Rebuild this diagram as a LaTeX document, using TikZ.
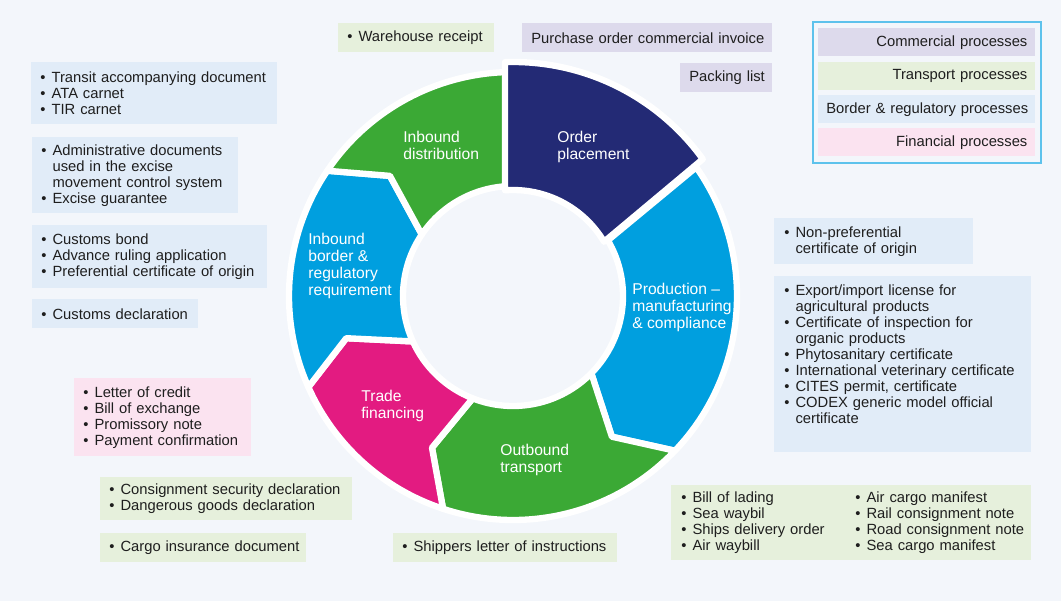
\documentclass[tikz,border=0pt]{standalone}
\usepackage{fontspec}
\setmainfont{Liberation Sans}
\definecolor{pagebg}{HTML}{F3F6FB}
\definecolor{navyseg}{HTML}{232A75}
\definecolor{blueseg}{HTML}{009FDF}
\definecolor{greenseg}{HTML}{3BA935}
\definecolor{pinkseg}{HTML}{E31B81}
\definecolor{commbox}{HTML}{DDDAEC}
\definecolor{transbox}{HTML}{E6F0DC}
\definecolor{borderbox}{HTML}{E1ECF8}
\definecolor{finbox}{HTML}{FBE3F0}
\definecolor{legframe}{HTML}{5DC2EC}
\definecolor{doctext}{HTML}{1E1E1E}
\newcommand\bul[1]{\mbox{\makebox[0.76em][l]{\textbullet}#1}}
\newcommand\bulind[1]{\mbox{\hspace*{0.76em}#1}}
\begin{document}
\begin{tikzpicture}[scale=0.2]
\tikzstyle{every node}+=[inner sep=0pt, text=doctext, font=\fontsize{8.4}{9.1}\selectfont]
\tikzstyle{seg}=[draw=white, line width=3.6pt, line join=round]
\tikzstyle{seglabel}=[anchor=north west, align=left, text=white, font=\fontsize{8.9}{9.7}\selectfont]
\tikzstyle{docbox}=[anchor=north west, inner xsep=0.18cm, align=left]
\tikzstyle{legrow}=[anchor=north west, inner xsep=0.16cm, align=right, text width=4.02cm, minimum height=0.56cm]
\fill [pagebg] (0,0) rectangle (106.1,-60.1);
\begin{scope}[shift={(51.3,-29.6)}]
\fill [seg, fill=blueseg] (35.1:22.4) arc [start angle=35.1, end angle=-43.7, radius=22.4] -- (-54.9:17.2) -- (-44.6:11) arc [start angle=-44.6, end angle=30.4, radius=11] -- cycle;
\fill [seg, fill=greenseg] (-43.7:22.4) arc [start angle=-43.7, end angle=-108.2, radius=22.4] -- (-118.1:17.2) -- (-111.5:11) arc [start angle=-111.5, end angle=-44.6, radius=11] -- (-54.9:17.2) -- cycle;
\fill [seg, fill=pinkseg] (-108.2:22.4) arc [start angle=-108.2, end angle=-156, radius=22.4] -- (-165.8:17.2) -- (-155.6:11) arc [start angle=-155.6, end angle=-111.5, radius=11] -- (-118.1:17.2) -- cycle;
\fill [seg, fill=blueseg] (-156:22.4) arc [start angle=-156, end angle=-214, radius=22.4] -- (-224.3:17.2) -- (-214:11) arc [start angle=-214, end angle=-155.6, radius=11] -- (-165.8:17.2) -- cycle;
\fill [seg, fill=greenseg] (-214:22.4) arc [start angle=-214, end angle=-268.21, radius=22.4] -- (-266.35:11) arc [start angle=-266.35, end angle=-214, radius=11] -- (-224.3:17.2) -- cycle;
\fill [seg, fill=navyseg] (91.96:23.4) arc [start angle=91.96, end angle=35.8, radius=23.4] -- (30.8:10.6) arc [start angle=30.8, end angle=94.33, radius=10.6] -- cycle;
\end{scope}
\node (ordlab) [seglabel] at (55.7,-13.1) {Order\\placement};
\node (distlab) [seglabel] at (40.3,-13.1) {Inbound\\distribution};
\node (borlab) [seglabel] at (30.8,-23.3) {Inbound\\border \&\\regulatory\\requirement};
\node (prodlab) [seglabel] at (63.2,-28.3) {Production \textendash\\manufacturing\\\& compliance};
\node (tradelab) [seglabel] at (36.1,-39.0) {Trade\\financing};
\node (outlab) [seglabel] at (50.0,-44.4) {Outbound\\transport};
\node (wh) [docbox, fill=transbox, text width=2.76cm, minimum height=0.58cm] at (33.8,-2.3) {\bul{Warehouse receipt}};
\node (po) [docbox, fill=commbox, align=center, text width=4.64cm, minimum height=0.58cm] at (52.2,-2.3) {\mbox{Purchase order commercial invoice}};
\node (pl) [docbox, fill=commbox, align=center, text width=1.48cm, minimum height=0.58cm] at (68.0,-6.3) {\mbox{Packing list}};
\node (lgc) [legrow, fill=commbox] at (81.8,-2.8) {\mbox{Commercial processes}};
\node (lgt) [legrow, fill=transbox] at (81.8,-6.2) {\mbox{Transport processes}};
\node (lgb) [legrow, fill=borderbox] at (81.8,-9.5) {\mbox{Border \& regulatory processes}};
\node (lgf) [legrow, fill=finbox] at (81.8,-12.8) {\mbox{Financial processes}};
\draw [legframe, line width=0.85pt] (81.3,-2.2) rectangle (104.1,-16.3);
\node (tad) [docbox, fill=borderbox, text width=4.56cm, minimum height=1.24cm] at (3.1,-6.2) {\bul{Transit accompanying document}\\\bul{ATA carnet}\\\bul{TIR carnet}};
\node (exc) [docbox, fill=borderbox, text width=3.76cm, minimum height=1.52cm] at (3.2,-13.7) {\bul{Administrative documents}\\\bulind{used in the excise}\\\bulind{movement control system}\\\bul{Excise guarantee}};
\node (cbd) [docbox, fill=borderbox, text width=4.34cm, minimum height=1.26cm] at (3.2,-22.5) {\bul{Customs bond}\\\bul{Advance ruling application}\\\bul{Preferential certificate of origin}};
\node (cdl) [docbox, fill=borderbox, text width=2.96cm, minimum height=0.58cm] at (3.2,-29.9) {\bul{Customs declaration}};
\node (loc) [docbox, fill=finbox, text width=3.18cm, minimum height=1.56cm] at (7.4,-37.8) {\bul{Letter of credit}\\\bul{Bill of exchange}\\\bul{Promissory note}\\\bul{Payment confirmation}};
\node (csd) [docbox, fill=transbox, text width=4.68cm, minimum height=0.86cm] at (10.0,-47.7) {\bul{Consignment security declaration}\\\bul{Dangerous goods declaration}};
\node (cid) [docbox, fill=transbox, text width=3.76cm, minimum height=0.58cm] at (10.0,-53.3) {\bul{Cargo insurance document}};
\node (sli) [docbox, fill=transbox, text width=4.12cm, minimum height=0.58cm] at (39.3,-53.3) {\bul{Shippers letter of instructions}};
\node (bol) [docbox, fill=transbox, inner xsep=0.2cm, text width=6.8cm, minimum height=1.5cm] at (67.1,-48.5) {\makebox[3.48cm][l]{\bul{Bill of lading}}\bul{Air cargo manifest}\\\makebox[3.48cm][l]{\bul{Sea waybil}}\bul{Rail consignment note}\\\makebox[3.48cm][l]{\bul{Ships delivery order}}\bul{Road consignment note}\\\makebox[3.48cm][l]{\bul{Air waybill}}\bul{Sea cargo manifest}};
\node (npo) [docbox, fill=borderbox, inner xsep=0.2cm, text width=3.58cm, minimum height=0.92cm] at (77.4,-21.8) {\bul{Non-preferential}\\\bulind{certificate of origin}};
\node (eil) [docbox, fill=borderbox, inner xsep=0.2cm, text width=4.74cm, text height=0.38cm, text depth=3.14cm] at (77.4,-27.6) {\bul{Export/import license for}\\\bulind{agricultural products}\\\bul{Certificate of inspection for}\\\bulind{organic products}\\\bul{Phytosanitary certificate}\\\bul{International veterinary certificate}\\\bul{CITES permit, certificate}\\\bul{CODEX generic model official}\\\bulind{certificate}};
\end{tikzpicture}
\end{document}
